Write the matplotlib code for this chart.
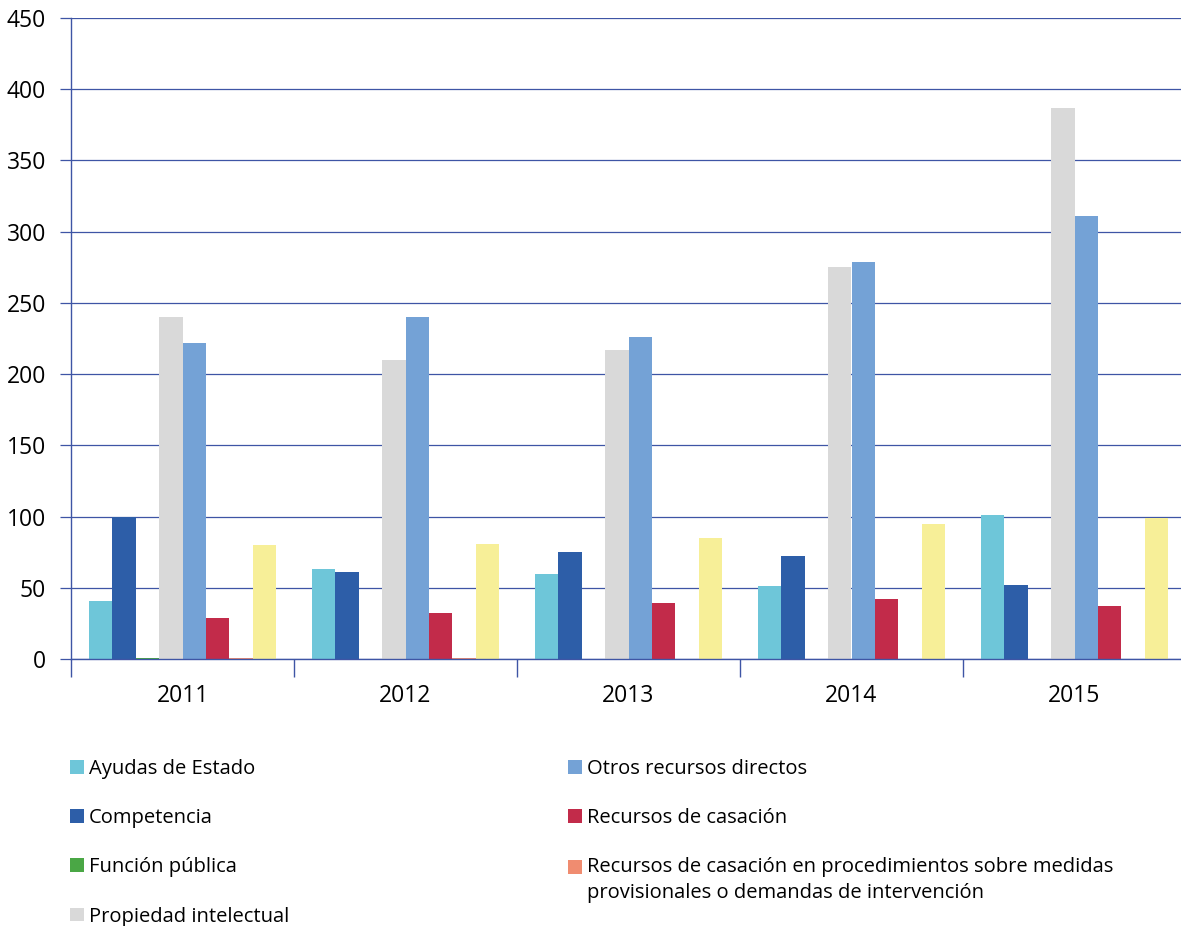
import matplotlib
matplotlib.use('Agg')
from matplotlib import pyplot as plt
from matplotlib.patches import Patch, Rectangle
from matplotlib.legend_handler import HandlerPatch
import numpy as np

years = ['2011', '2012', '2013', '2014', '2015']

ayudas_estado = [41, 63, 60, 51, 101]
competencia = [100, 61, 75, 72, 52]
funcion_publica = [1, 0, 0, 0, 0]
propiedad_intelectual = [240, 210, 217, 275, 387]
otros_recursos = [222, 240, 226, 279, 311]
recursos_casacion = [29, 32, 39, 42, 37]
casacion_medidas = [1, 1, 0, 0, 0]
procedimientos_especiales = [80, 81, 85, 95, 99]

series = [
    ('Ayudas de Estado', ayudas_estado, '#6ec6d9'),
    ('Competencia', competencia, '#2d5ea8'),
    ('Función pública', funcion_publica, '#4aa745'),
    ('Propiedad intelectual', propiedad_intelectual, '#d9d9d9'),
    ('Otros recursos directos', otros_recursos, '#74a2d6'),
    ('Recursos de casación', recursos_casacion, '#c22b4a'),
    ('Recursos de casación en procedimientos sobre medidas\n'
     'provisionales o demandas de intervención', casacion_medidas, '#f08c70'),
    ('Procedimientos especiales', procedimientos_especiales, '#f7ef98'),
]

plt.rcParams['font.family'] = ['Open Sans', 'DejaVu Sans']
axis_blue = '#3e55a5'
tick_fs = 16.5
legend_fs = 14.5

fig = plt.figure(figsize=(11.81, 9.26), dpi=100)
ax = fig.add_axes([71 / 1181, 267 / 926, 1115 / 1181, 641 / 926])

x = np.arange(len(years))
bar_w = 0.105
n = len(series)
for i, (label, vals, color) in enumerate(series):
    ax.bar(x + (i - (n - 1) / 2) * bar_w, vals, bar_w, color=color, zorder=2)

ax.set_xlim(-0.5, len(years) - 0.5)
ax.set_ylim(0, 450)
ax.set_yticks(range(0, 451, 50))
ax.yaxis.grid(True, color=axis_blue, linewidth=0.9, zorder=0)
ax.set_axisbelow(True)

# category boundaries as ticks, year labels centred between them
ax.set_xticks(np.arange(-0.5, len(years), 1.0))
ax.set_xticklabels([])
ax.set_xticks(x, minor=True)
ax.set_xticklabels(years, minor=True)
ax.tick_params(axis='x', which='major', length=13, width=1, color=axis_blue)
ax.tick_params(axis='x', which='minor', length=0, pad=18, labelsize=tick_fs)
ax.tick_params(axis='y', length=8, width=0.9, color=axis_blue, pad=10, labelsize=tick_fs)

for side in ['top', 'right']:
    ax.spines[side].set_visible(False)
for side in ['left', 'bottom']:
    ax.spines[side].set_color(axis_blue)
    ax.spines[side].set_linewidth(1)

line_sp = 1.35


# square key that sits level with the first line of a two-line label
def top_square(legend, orig_handle, xdescent, ydescent, width, height, fontsize):
    shift = 0.5 * fontsize * line_sp * 1.389 * 0.72
    return Rectangle((-xdescent, -ydescent + shift), width, height)


# the legend runs off the bottom edge, only the first seven keys are in view
handles = [Patch(facecolor=c, label=l) for l, _, c in series[:7]]
leg_kw = dict(frameon=False, handlelength=0.68, handleheight=0.68,
              handletextpad=0.25, labelspacing=1.45, borderpad=0,
              borderaxespad=0, fontsize=legend_fs, loc='upper left')
fig.legend(handles=handles[:4], bbox_to_anchor=(70 / 1181, 1 - 759 / 926), **leg_kw)
leg2 = fig.legend(handles=handles[4:], bbox_to_anchor=(568 / 1181, 1 - 759 / 926),
                  handler_map={handles[6]: HandlerPatch(patch_func=top_square)}, **leg_kw)
leg2.get_texts()[2].set_linespacing(line_sp)

plt.savefig('out.png', dpi=100)
